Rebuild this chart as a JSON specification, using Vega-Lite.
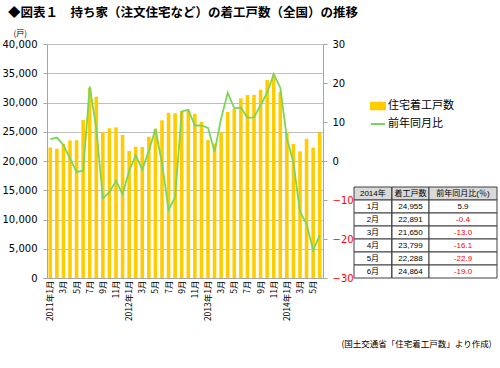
{
  "$schema": "https://vega.github.io/schema/vega-lite/v6.json",
  "padding": {"left": 2, "top": 6, "right": 2, "bottom": 4},
  "background": "white",
  "title": {
    "text": "◆図表１　持ち家（注文住宅など）の着工戸数（全国）の推移",
    "anchor": "start",
    "font": "Noto Sans CJK JP",
    "fontSize": 12.5,
    "fontWeight": "bold",
    "color": "#000000",
    "dx": 6,
    "offset": 10
  },
  "datasets": {
    "monthly": [
      {"month": "2011-01", "starts": 22300, "yoy": 5.6},
      {"month": "2011-02", "starts": 22100, "yoy": 6.0},
      {"month": "2011-03", "starts": 22900, "yoy": 4.1},
      {"month": "2011-04", "starts": 23500, "yoy": 0.6},
      {"month": "2011-05", "starts": 23550, "yoy": -2.8},
      {"month": "2011-06", "starts": 27000, "yoy": -2.5},
      {"month": "2011-07", "starts": 32500, "yoy": 19.1},
      {"month": "2011-08", "starts": 31000, "yoy": 8.4},
      {"month": "2011-09", "starts": 24950, "yoy": -9.6},
      {"month": "2011-10", "starts": 25600, "yoy": -8.0},
      {"month": "2011-11", "starts": 25750, "yoy": -5.1},
      {"month": "2011-12", "starts": 24450, "yoy": -8.5},
      {"month": "2012-01", "starts": 21700, "yoy": -2.5},
      {"month": "2012-02", "starts": 22450, "yoy": 1.5},
      {"month": "2012-03", "starts": 22400, "yoy": -2.2},
      {"month": "2012-04", "starts": 24150, "yoy": 2.6},
      {"month": "2012-05", "starts": 25500, "yoy": 8.2},
      {"month": "2012-06", "starts": 26950, "yoy": -0.6},
      {"month": "2012-07", "starts": 28250, "yoy": -12.5},
      {"month": "2012-08", "starts": 28150, "yoy": -9.3},
      {"month": "2012-09", "starts": 28550, "yoy": 12.7},
      {"month": "2012-10", "starts": 28750, "yoy": 13.1},
      {"month": "2012-11", "starts": 28050, "yoy": 9.1},
      {"month": "2012-12", "starts": 26700, "yoy": 9.1},
      {"month": "2013-01", "starts": 23570, "yoy": 8.5},
      {"month": "2013-02", "starts": 22980, "yoy": 2.4},
      {"month": "2013-03", "starts": 24890, "yoy": 10.9},
      {"month": "2013-04", "starts": 28370, "yoy": 17.5},
      {"month": "2013-05", "starts": 28910, "yoy": 13.5},
      {"month": "2013-06", "starts": 30700, "yoy": 13.7},
      {"month": "2013-07", "starts": 31300, "yoy": 11.1},
      {"month": "2013-08", "starts": 31300, "yoy": 11.2},
      {"month": "2013-09", "starts": 32200, "yoy": 14.3},
      {"month": "2013-10", "starts": 33850, "yoy": 17.5},
      {"month": "2013-11", "starts": 34800, "yoy": 22.3},
      {"month": "2013-12", "starts": 31850, "yoy": 18.8},
      {"month": "2014-01", "starts": 24955, "yoy": 5.9},
      {"month": "2014-02", "starts": 22891, "yoy": -0.4},
      {"month": "2014-03", "starts": 21650, "yoy": -13.0},
      {"month": "2014-04", "starts": 23799, "yoy": -16.1},
      {"month": "2014-05", "starts": 22288, "yoy": -22.9},
      {"month": "2014-06", "starts": 24864, "yoy": -19.0}
    ],
    "table": [
      {"row": 0, "c1": "2014年", "c2": "着工戸数", "c3": "前年同月比(％)"},
      {"row": 1, "c1": "1月", "c2": "24,955", "c3": "5.9"},
      {"row": 2, "c1": "2月", "c2": "22,891", "c3": "-0.4"},
      {"row": 3, "c1": "3月", "c2": "21,650", "c3": "-13.0"},
      {"row": 4, "c1": "4月", "c2": "23,799", "c3": "-16.1"},
      {"row": 5, "c1": "5月", "c2": "22,288", "c3": "-22.9"},
      {"row": 6, "c1": "6月", "c2": "24,864", "c3": "-19.0"}
    ]
  },
  "bounds": "flush",
  "spacing": 31,
  "hconcat": [
    {
      "width": 276,
      "height": 234,
      "data": {"name": "monthly"},
      "encoding": {
        "x": {
          "field": "month",
          "type": "ordinal",
          "scale": {"paddingInner": 0.45, "paddingOuter": 0.225},
          "axis": {
            "labelAngle": -90,
            "labelFont": "Noto Sans CJK JP",
            "labelFontSize": 8.5,
            "labelPadding": 2,
            "ticks": false,
            "domainColor": "#A6A6A6",
            "labelExpr": "substring(datum.value,5,7) == '01' ? substring(datum.value,0,4) + '年1月' : (parseInt(substring(datum.value,5,7)) % 2 == 1 ? parseInt(substring(datum.value,5,7)) + '月' : '')",
            "title": "(国土交通省「住宅着工戸数」より作成)",
            "titleFont": "Noto Sans CJK JP",
            "titleFontSize": 8.5,
            "titleFontWeight": "normal",
            "titleColor": "#000000",
            "titleAngle": 0,
            "titleAlign": "right",
            "titleBaseline": "middle",
            "titleX": 444,
            "titleY": 65
          }
        }
      },
      "layer": [
        {
          "mark": {"type": "bar"},
          "encoding": {
            "y": {
              "field": "starts",
              "type": "quantitative",
              "scale": {"domain": [0, 40000]},
              "axis": {
                "values": [0, 5000, 10000, 15000, 20000, 25000, 30000, 35000, 40000],
                "format": ",.0f",
                "labelFont": "DejaVu Sans",
                "labelFontSize": 10,
                "labelColor": "#000000",
                "labelPadding": 6,
                "tickSize": 4,
                "tickColor": "#A6A6A6",
                "domainColor": "#A6A6A6",
                "grid": true,
                "gridColor": "#BFBFBF",
                "title": "(戸)",
                "titleFont": "Noto Sans CJK JP",
                "titleFontSize": 8,
                "titleFontWeight": "normal",
                "titleColor": "#000000",
                "titleAngle": 0,
                "titleAlign": "left",
                "titleBaseline": "middle",
                "titleX": -34,
                "titleY": -11
              }
            },
            "color": {
              "datum": "住宅着工戸数",
              "type": "nominal",
              "scale": {"domain": ["住宅着工戸数", "前年同月比"], "range": ["#FFCC00", "#7CD55A"]},
              "legend": {
                "title": null,
                "orient": "none",
                "legendX": 323,
                "legendY": 54,
                "padding": 0,
                "symbolSize": 196,
                "labelFont": "Noto Sans CJK JP",
                "labelFontSize": 11,
                "labelColor": "#000000",
                "labelOffset": 2,
                "rowPadding": 2,
                "encode": {
                  "symbols": {
                    "update": {
                      "shape": {"signal": "datum.value == '前年同月比' ? 'M-1,0L1,0' : 'M-1,-0.45L1,-0.45L1,0.45L-1,0.45Z'"},
                      "fill": {"signal": "datum.value == '前年同月比' ? 'transparent' : '#FFCC00'"},
                      "stroke": {"signal": "datum.value == '前年同月比' ? '#7CD55A' : 'transparent'"},
                      "strokeWidth": {"value": 2},
                      "opacity": {"value": 1}
                    }
                  }
                }
              }
            }
          }
        },
        {
          "mark": {"type": "line", "strokeWidth": 1.8},
          "encoding": {
            "y": {
              "field": "yoy",
              "type": "quantitative",
              "scale": {"domain": [-30, 30]},
              "axis": {
                "orient": "right",
                "values": [-30, -20, -10, 0, 10, 20, 30],
                "labelFont": "DejaVu Sans",
                "labelFontSize": 10,
                "labelColor": {"condition": {"test": "datum.value < 0", "value": "#FF0000"}, "value": "#000000"},
                "labelPadding": 5,
                "tickSize": 4,
                "tickColor": "#A6A6A6",
                "domainColor": "#A6A6A6",
                "grid": false,
                "title": null
              }
            },
            "color": {"datum": "前年同月比", "type": "nominal"}
          }
        }
      ],
      "resolve": {"scale": {"y": "independent"}}
    },
    {
      "spacing": 0,
      "bounds": "flush",
      "data": {"name": "table"},
      "hconcat": [
        {
          "width": 37.7,
          "height": 234,
          "encoding": {"y": {"field": "row", "type": "ordinal", "scale": {"domain": [-11, -10, -9, -8, -7, -6, -5, -4, -3, -2, -1, 0, 1, 2, 3, 4, 5, 6], "paddingInner": 0, "paddingOuter": 0}, "axis": null}},
          "layer": [
            {"mark": {"type": "rect", "stroke": "#404040", "strokeWidth": 1}, "encoding": {"fill": {"condition": {"test": "datum.row == 0", "value": "#D9D9D9"}, "value": "#FFFFFF"}}},
            {"mark": {"type": "text", "font": "Liberation Sans, Noto Sans CJK JP", "fontSize": 8, "color": "#000000"}, "encoding": {"text": {"field": "c1"}}}
          ]
        },
        {
          "width": 37,
          "height": 234,
          "encoding": {"y": {"field": "row", "type": "ordinal", "scale": {"domain": [-11, -10, -9, -8, -7, -6, -5, -4, -3, -2, -1, 0, 1, 2, 3, 4, 5, 6], "paddingInner": 0, "paddingOuter": 0}, "axis": null}},
          "layer": [
            {"mark": {"type": "rect", "stroke": "#404040", "strokeWidth": 1}, "encoding": {"fill": {"condition": {"test": "datum.row == 0", "value": "#D9D9D9"}, "value": "#FFFFFF"}}},
            {"mark": {"type": "text", "font": "Liberation Sans, Noto Sans CJK JP", "fontSize": 8, "color": "#000000"}, "encoding": {"text": {"field": "c2"}}}
          ]
        },
        {
          "width": 68,
          "height": 234,
          "encoding": {"y": {"field": "row", "type": "ordinal", "scale": {"domain": [-11, -10, -9, -8, -7, -6, -5, -4, -3, -2, -1, 0, 1, 2, 3, 4, 5, 6], "paddingInner": 0, "paddingOuter": 0}, "axis": null}},
          "layer": [
            {"mark": {"type": "rect", "stroke": "#404040", "strokeWidth": 1}, "encoding": {"fill": {"condition": {"test": "datum.row == 0", "value": "#D9D9D9"}, "value": "#FFFFFF"}}},
            {"mark": {"type": "text", "font": "Liberation Sans, Noto Sans CJK JP", "fontSize": 8}, "encoding": {"text": {"field": "c3"}, "color": {"condition": {"test": "datum.row > 0 && indexof(datum.c3, '-') == 0", "value": "#FF0000"}, "value": "#000000"}}}
          ]
        }
      ]
    }
  ],
  "config": {
    "view": {"stroke": null},
    "axis": {"labelFont": "DejaVu Sans"}
  }
}
